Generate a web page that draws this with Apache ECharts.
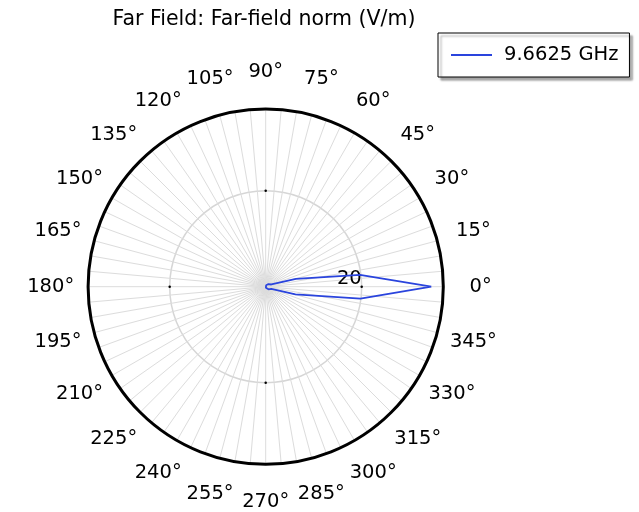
<!DOCTYPE html>
<html>
<head>
<meta charset="utf-8">
<script src="https://cdn.jsdelivr.net/npm/echarts@6/dist/echarts.min.js"></script>
<style>
  html, body { margin: 0; padding: 0; background: #fff; }
  #chart { width: 639px; height: 512px; }
</style>
</head>
<body>
<div id="chart"></div>
<script>
// Far-field norm (V/m) sampled every 7.2 degrees, 0..360
const angles = [
  0, 7.2, 14.4, 21.6, 28.8, 36, 43.2, 50.4, 57.6, 64.8,
  72, 79.2, 86.4, 93.6, 100.8, 108, 115.2, 122.4, 129.6, 136.8,
  144, 151.2, 158.4, 165.6, 172.8, 180, 187.2, 194.4, 201.6, 208.8,
  216, 223.2, 230.4, 237.6, 244.8, 252, 259.2, 266.4, 273.6, 280.8,
  288, 295.2, 302.4, 309.6, 316.8, 324, 331.2, 338.4, 345.6, 352.8, 360
];
const normValues = [
  34.5, 19.8, 6.5, 1.25, 0.95, 0.9, 0.8, 0.65, 0.5, 0.4,
  0.3, 0.2, 0.15, 0.13, 0.13, 0.14, 0.15, 0.15, 0.15, 0.15,
  0.15, 0.15, 0.15, 0.15, 0.15, 0.15, 0.15, 0.15, 0.15, 0.15,
  0.15, 0.15, 0.15, 0.15, 0.14, 0.13, 0.13, 0.13, 0.15, 0.2,
  0.3, 0.4, 0.5, 0.65, 0.8, 0.9, 0.95, 1.25, 6.4, 19.9, 34.5
];
const seriesName = '9.6625 GHz';
const radialTicks = [20];
const angleTickLabels = [0, 15, 30, 45, 60, 75, 90, 105, 120, 135, 150, 165,
  180, 195, 210, 225, 240, 255, 270, 285, 300, 315, 330, 345];

const font = 'DejaVu Sans';
const rMax = 37;
const plotRadius = 177.6;
// angle labels sit centred on a ring just outside the plot edge
const labelRing = rMax * 215 / plotRadius;

const lineData = angles.map((a, i) => [normValues[i], a]);
const tickDots = [0, 90, 180, 270].flatMap(a => radialTicks.map(r => [r, a]));
const angleLabelData = angleTickLabels.map(a => [labelRing, a]);

const chart = echarts.init(document.getElementById('chart'), null, { renderer: 'canvas' });
chart.setOption({
  backgroundColor: '#fff',
  animation: false,
  title: {
    text: 'Far Field: Far-field norm (V/m)',
    left: 264,
    top: 9,
    textAlign: 'center',
    padding: 0,
    textStyle: { fontFamily: font, fontSize: 20.5, fontWeight: 'normal', color: '#000' }
  },
  legend: {
    data: [seriesName],
    left: 438,
    top: 33,
    orient: 'vertical',
    padding: [12, 11, 12, 13],
    icon: 'rect',
    itemWidth: 41,
    itemHeight: 2,
    itemStyle: { color: '#2a44dd' },
    backgroundColor: '#fff',
    borderColor: '#000',
    borderWidth: 1,
    borderRadius: 0,
    shadowColor: 'rgba(0,0,0,0.35)',
    shadowBlur: 2,
    shadowOffsetX: 3,
    shadowOffsetY: 3,
    textStyle: { fontFamily: font, fontSize: 19.5, color: '#000', padding: [0, 0, 0, 7] }
  },
  polar: { center: [265.7, 286.7], radius: plotRadius },
  angleAxis: {
    type: 'value',
    min: 0,
    max: 360,
    interval: 5,
    startAngle: 0,
    clockwise: false,
    axisLine: { show: true, lineStyle: { color: '#000', width: 3 } },
    axisTick: { show: false },
    axisLabel: { show: false },
    splitLine: { show: true, lineStyle: { color: '#dcdcdc', width: 1 } }
  },
  radiusAxis: {
    type: 'value',
    min: 0,
    max: rMax,
    interval: 20,
    axisLine: { show: false },
    axisTick: { show: false },
    axisLabel: {
      show: true,
      margin: 0,
      align: 'right',
      verticalAlign: 'bottom',
      lineHeight: 16,
      fontFamily: font,
      fontSize: 19.5,
      color: '#000',
      formatter: v => radialTicks.includes(v) ? String(v) : ''
    },
    splitLine: { show: true, lineStyle: { color: '#d6d6d6', width: 1.5 } }
  },
  series: [
    {
      name: 'angle labels',
      type: 'scatter',
      coordinateSystem: 'polar',
      data: angleLabelData,
      symbolSize: 0,
      clip: false,
      silent: true,
      itemStyle: { color: '#000', opacity: 1 },
      label: {
        show: true,
        position: 'inside',
        fontFamily: font,
        fontSize: 19.5,
        color: '#000',
        opacity: 1,
        textBorderWidth: 0,
        formatter: p => p.value[1] + '°'
      },
      z: 5
    },
    {
      name: 'ticks',
      type: 'scatter',
      coordinateSystem: 'polar',
      data: tickDots,
      symbol: 'circle',
      symbolSize: 2.5,
      itemStyle: { color: '#000', opacity: 1 },
      silent: true,
      z: 3
    },
    {
      name: seriesName,
      type: 'line',
      coordinateSystem: 'polar',
      data: lineData,
      symbol: 'none',
      smooth: false,
      lineStyle: { color: '#2a44dd', width: 1.8 },
      itemStyle: { color: '#2a44dd' },
      z: 4
    }
  ]
});
</script>
</body>
</html>
